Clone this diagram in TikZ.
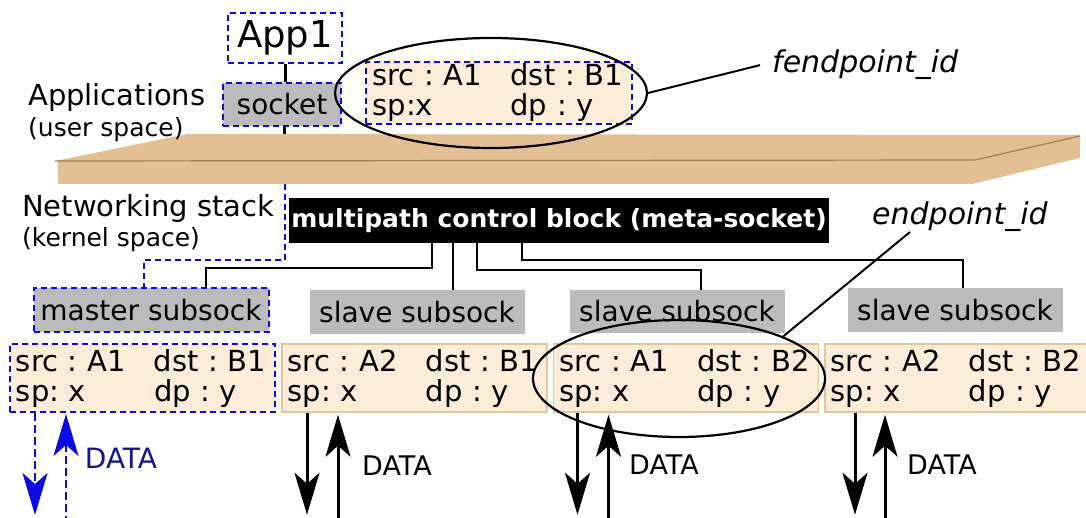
\documentclass[tikz,border=0pt]{standalone}
\usepackage{fontspec}
\setmainfont{DejaVu Sans}
\usetikzlibrary{shapes.geometric,arrows.meta,positioning}
\frenchspacing

\definecolor{tupfill}{RGB}{253,236,216}
\definecolor{tupedge}{RGB}{230,196,154}
\definecolor{plank}{RGB}{226,192,148}
\definecolor{plankline}{RGB}{164,128,76}
\definecolor{sockgray}{RGB}{187,187,187}
\definecolor{dashblue}{RGB}{10,10,230}
\definecolor{datablue}{RGB}{20,20,140}

\newcommand{\bigfnt}{\fontsize{29}{30}\selectfont}
\newcommand{\midfnt}{\fontsize{28}{30}\selectfont}
\newcommand{\smallfnt}{\fontsize{25}{30}\selectfont}

\tikzstyle{tuple} = [rectangle, fill=tupfill, draw=tupedge, line width=1.5pt, minimum width=265pt, minimum height=68pt, inner xsep=6pt, inner ysep=0pt, text width=253pt, align=left, font=\bigfnt]
\tikzstyle{subsock} = [rectangle, fill=sockgray, minimum height=43pt, minimum width=215pt, inner xsep=6pt, font=\midfnt]
\tikzstyle{bluedash} = [draw=dashblue, line width=2pt, dash pattern=on 6pt off 4pt]
\tikzstyle{link} = [line width=2pt]
\tikzstyle{oval} = [ellipse, draw, line width=2.2pt, inner sep=0pt]
\tikzstyle{sidetext} = [inner sep=0pt, anchor=base west]
\tikzstyle{arrow} = [line width=3pt, -{Stealth[length=42pt,width=25pt,inset=11pt]}]
\tikzstyle{uparrow} = [line width=3pt, {Stealth[length=42pt,width=25pt,inset=11pt]}-]

\begin{document}
\begin{tikzpicture}[x=1pt, y=-1pt]
            \useasboundingbox (0,0) rectangle (1086,518);

            % the user/kernel border
            \fill [plank] (55,161) -- (187,134) -- (1080,135) -- (1080,158) -- (972,184) -- (58,184) -- (58,161) -- cycle;
            \draw [plankline, line width=1.2pt] (55,161) -- (975,160) -- (1080,136);
            \coordinate (plankup) at (284,134);
            \coordinate (plankdown) at (285,184);

            % user space
            \node (app) [bluedash, minimum width=114pt, minimum height=50pt, inner sep=0pt, font=\fontsize{37}{40}\selectfont] at (285,38) {App1};
            \node (sock) [bluedash, fill=sockgray, minimum width=118pt, minimum height=43pt, inner sep=0pt, font=\midfnt] at (282,104.5) {socket};
            \node (appl) [sidetext, font=\bigfnt] at (28,106) {Applications};
            \node (applsub) [sidetext, font=\smallfnt] at ([yshift=-31pt]appl.base west) {(user space)};
            \node (fendbox) [tuple, bluedash, minimum width=266pt, minimum height=62pt] at (499,93) {
                \makebox[138pt][l]{src : A1}dst : B1\\
                \makebox[138pt][l]{sp:x}dp : y
            };
            \node (ell1) [oval, minimum width=312pt, minimum height=110pt] at (491,93) {};
            \node (fendlbl) [sidetext, font=\fontsize{30}{32}\selectfont\itshape] at (772,73) {fendpoint\_id};

            % kernel space
            \node (netw) [sidetext, font=\bigfnt] at (22,217) {Networking stack};
            \node (netwsub) [sidetext, font=\smallfnt] at ([yshift=-30pt]netw.base west) {(kernel space)};
            \node (mcb) [rectangle, fill=black, text=white, minimum width=538pt, minimum height=45pt, inner xsep=2pt, font=\smallfnt\bfseries] at (559,220.5) {multipath control block (meta-socket)};
            \node (eplbl) [sidetext, font=\fontsize{30}{32}\selectfont\itshape] at (872,225) {endpoint\_id};

            \node (master) [subsock, bluedash, minimum width=235pt] at (151,310) {master subsock};
            \node (slave1) [subsock] at (417,312) {slave subsock};
            \node (slave2) [subsock] at (677,311.5) {slave subsock};
            \node (slave3) [subsock] at (955,310) {slave subsock};

            \node (tup1) [tuple, bluedash] at (142.5,378) {
                \makebox[138pt][l]{src : A1}dst : B1\\
                \makebox[138pt][l]{sp: x}dp : y
            };
            \node (tup2) [tuple, right=5pt of tup1] {
                \makebox[138pt][l]{src : A2}dst : B1\\
                \makebox[138pt][l]{sp: x}dp : y
            };
            \node (tup3) [tuple, right=5pt of tup2] {
                \makebox[138pt][l]{src : A1}dst : B2\\
                \makebox[138pt][l]{sp: x}dp : y
            };
            \node (tup4) [tuple, right=5pt of tup3] {
                \makebox[138pt][l]{src : A2}dst : B2\\
                \makebox[138pt][l]{sp: x}dp : y
            };
            \node (ell2) [oval, minimum width=292pt, minimum height=117pt] at (679,378.5) {};

            \node (data1) [text=datablue, inner sep=0pt, font=\fontsize{28}{30}\selectfont] at (121,458) {DATA};
            \node (data2) [inner sep=0pt, font=\fontsize{27}{30}\selectfont] at (397,466) {DATA};
            \node (data3) [inner sep=0pt, font=\fontsize{27}{30}\selectfont] at (664,465) {DATA};
            \node (data4) [inner sep=0pt, font=\fontsize{27}{30}\selectfont] at (942,465) {DATA};

            % connectors
            \draw [link, line width=3pt] (app.south) -- (app.south |- sock.north);
            \draw [link, line width=3pt] (sock.south -| plankup) -- (plankup);
            \draw [bluedash] (plankdown) -- ++(0,76) -| ([xshift=-7pt]master.north);
            \draw [link] (ell1.east) -- ([xshift=-12pt]fendlbl.west);
            \draw [link] (ell2.22) -- ([xshift=38pt,yshift=-7pt]eplbl.base west);

            \draw [link] ([xshift=-127pt]mcb.south) -- ++(0,25) -| ([xshift=55pt]master.north);
            \draw [link] ([xshift=-106pt]mcb.south) -- ([xshift=-106pt]mcb.south |- slave1.north);
            \draw [link] ([xshift=-82pt]mcb.south) -- ++(0,27) -| ([xshift=24pt]slave2.north);
            \draw [link] ([xshift=-37pt]mcb.south) -- ++(0,17) -| ([xshift=8pt]slave3.north);

            \draw [arrow, dashblue, line width=2.6pt, dash pattern=on 8pt off 4pt] ([xshift=26pt]tup1.south west) -- ++(0,102);
            \draw [uparrow, dashblue, line width=2.6pt, dash pattern=on 8pt off 4pt] ([xshift=57pt,yshift=-1pt]tup1.south west) -- ++(0,106);
            \draw [arrow] ([xshift=26pt]tup2.south west) -- ++(0,102);
            \draw [uparrow] ([xshift=57pt,yshift=-2pt]tup2.south west) -- ++(0,106);
            \draw [arrow] ([xshift=25pt]tup3.south west) -- ++(0,102);
            \draw [uparrow] ([xshift=56pt,yshift=-2pt]tup3.south west) -- ++(0,106);
            \draw [arrow] ([xshift=31pt]tup4.south west) -- ++(0,102);
            \draw [uparrow] ([xshift=61pt,yshift=-2pt]tup4.south west) -- ++(0,106);
        \end{tikzpicture}
\end{document}
